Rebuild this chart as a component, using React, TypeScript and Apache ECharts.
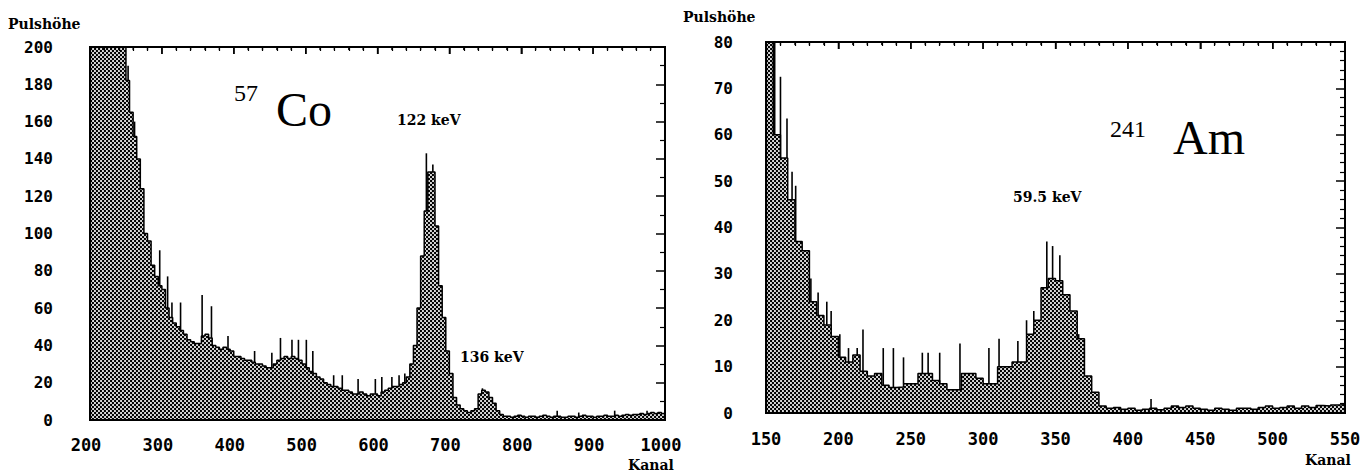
import React, { useEffect, useRef } from "react";
import * as echarts from "echarts";

// ---------- 57Co spectrum (channels 200..1000, 5-channel bins) ----------
const CO_START = 200;
const CO_BIN = 5;
const coCounts = [
  200, 200, 200, 200, 200, 200, 200, 200, 200, 200,
  182, 165, 152, 140, 124, 100, 96, 83, 77, 72,
  70, 60, 55, 52, 50, 48, 46, 43, 42, 41,
  41, 45, 46, 44, 40, 39, 38, 39, 38, 37,
  34, 34, 33, 32, 32, 31, 30, 30, 29, 28,
  28, 30, 32, 33, 34, 33, 34, 33, 32, 30,
  28, 26, 25, 23, 22, 20, 19, 18, 18, 17,
  16, 16, 15, 14, 14, 15, 14, 13, 14, 14,
  13, 15, 16, 17, 18, 18, 19, 20, 23, 30,
  40, 60, 88, 112, 133, 133, 104, 72, 55, 37,
  25, 12, 8, 6, 5, 4, 5, 6, 14, 16,
  15, 12, 9, 5, 3, 2, 2, 1.5, 2, 2.5,
  2, 1.5, 2, 2, 1.5, 2, 2.5, 2, 1.5, 2,
  2, 1.5, 1.5, 2, 2, 1.5, 2, 2.5, 2, 2,
  1.5, 2, 2, 2.5, 2, 2, 2.5, 2, 2.5, 3,
  2.5, 3, 3, 3.5, 3, 3.5, 4, 3.5, 4, 3.5,
];
// [channel, top of spike]
const coSpikes: [number, number][] = [
  [253, 190], [262, 160], [297, 91], [308, 77], [314, 63], [326, 63],
  [356, 67], [369, 61], [392, 45], [429, 37], [453, 36], [465, 44],
  [481, 43], [490, 43], [501, 43], [510, 37], [539, 24], [551, 24],
  [573, 22], [597, 22], [606, 23], [620, 23], [630, 24], [638, 25],
  [668, 143], [677, 137], [746, 17], [850, 5], [880, 4], [930, 5], [975, 5],
];

// ---------- 241Am spectrum (channels 150..550, 5-channel bins) ----------
const AM_START = 150;
const AM_BIN = 5;
const amCounts = [
  82, 60, 55, 46, 37, 35, 24, 21, 19, 16.5,
  12, 11, 12.5, 9, 8, 8.5, 6, 5.5, 5.6, 6.3,
  6.3, 8.5, 8.5, 7, 6.3, 5, 5, 8.5, 8.5, 7.5,
  6.3, 6.3, 10, 10, 11, 11, 17, 20, 27, 29,
  28.5, 25.5, 22, 16, 8, 4.5, 1.5, 1, 1.2, 0.8,
  1, 0.6, 0.8, 1, 0.7, 1, 1.5, 1.2, 1.5, 1,
  0.8, 0.6, 1, 0.8, 0.6, 1, 1, 0.8, 1.2, 1.5,
  1, 1.2, 1.5, 1, 1.5, 1.2, 1.6, 1.5, 1.7, 1.8,
];
const amSpikes: [number, number][] = [
  [152, 80], [156, 80], [160, 72.5], [164.5, 63.5], [168, 52], [170.5, 49],
  [181, 29], [186, 26], [192, 24], [195, 22], [201, 17], [207, 14],
  [213, 14], [217, 18], [231, 14], [238, 14], [245, 12], [258, 13],
  [262, 13], [270, 13], [284, 15], [304, 14], [311, 16], [317, 10],
  [324, 15.5], [330, 20], [335, 22], [344, 37], [348, 36], [353, 34],
  [366, 17], [416, 3],
];

const CO_X_MIN = 200, CO_X_MAX = 1000, CO_Y_MAX = 200;
const AM_X_MIN = 150, AM_X_MAX = 550, AM_Y_MAX = 80;

function toSteps(start: number, bin: number, counts: number[]) {
  const d = counts.map((v, i) => [start + i * bin, v]);
  d.push([start + counts.length * bin, counts[counts.length - 1]]);
  return d;
}
function spikeData(start: number, bin: number, counts: number[], spikes: [number, number][]) {
  return spikes.map(([ch, top]) => {
    const idx = Math.min(counts.length - 1, Math.max(0, Math.floor((ch - start) / bin)));
    return [ch, counts[idx], top];
  });
}

const patSvg =
  "<svg xmlns='http://www.w3.org/2000/svg' width='4' height='4'>" +
  "<rect width='4' height='4' fill='#000'/>" +
  "<ellipse cx='1' cy='1' rx='1.2' ry='0.9' fill='#fff'/>" +
  "<ellipse cx='3' cy='3' rx='1.2' ry='0.9' fill='#fff'/></svg>";
const patUrl = "data:image/svg+xml;charset=utf-8," + encodeURIComponent(patSvg);

const TICK_FONT = "DejaVu Sans Mono";
const SERIF_BOLD = "DejaVu Serif";

export default function App() {
  const ref = useRef<HTMLDivElement>(null);
  useEffect(() => {
    if (!ref.current) return;
    const chart = echarts.init(ref.current, null, { renderer: "svg" });
    const pattern: any = { image: patUrl, repeat: "repeat", imageWidth: 4, imageHeight: 4 };
    const axisLine = () => ({ show: true, onZero: false, lineStyle: { color: "#000", width: 2 } });
    const fmt = (v: number) => String(v);
    const xLabel = () => ({ color: "#000", fontFamily: TICK_FONT, fontWeight: "bold", fontSize: 17, formatter: fmt });
    const yLabel = () => ({ color: "#000", fontFamily: TICK_FONT, fontWeight: "bold", fontSize: 16, align: "right", formatter: fmt });
    const spikeRender = (params: any, api: any) => {
      const p1 = api.coord([api.value(0), api.value(1)]);
      const p2 = api.coord([api.value(0), api.value(2)]);
      return {
        type: "line",
        shape: { x1: p1[0], y1: p1[1], x2: p2[0], y2: p2[1] },
        style: { stroke: "#000", lineWidth: 1.6 },
      };
    };
    const frameAxis = (dir: "x" | "y", grid: number, min: number, max: number, interval: number, minorSplit: number, len: number) => ({
      type: "value", gridIndex: grid, position: dir === "x" ? "top" : "right", min, max, interval, z: 10,
      axisLine: axisLine(), splitLine: { show: false },
      axisLabel: { show: false },
      axisTick: { show: true, inside: true, length: len, lineStyle: { color: "#000", width: 1.5 } },
      minorTick: { show: true, splitNumber: minorSplit, length: Math.round(len / 2), lineStyle: { color: "#000", width: 1.2 } },
    });
    const texts: any[] = [
      { type: "text", x: 8, y: 24, style: { text: "Pulshöhe", fill: "#000", fontFamily: SERIF_BOLD, fontWeight: "bold", fontSize: 14, verticalAlign: "middle" } },
      { type: "text", x: 683, y: 17, style: { text: "Pulshöhe", fill: "#000", fontFamily: SERIF_BOLD, fontWeight: "bold", fontSize: 14, verticalAlign: "middle" } },
      { type: "text", x: 628, y: 465, style: { text: "Kanal", fill: "#000", fontFamily: SERIF_BOLD, fontWeight: "bold", fontSize: 14, verticalAlign: "middle" } },
      { type: "text", x: 1305, y: 460, style: { text: "Kanal", fill: "#000", fontFamily: SERIF_BOLD, fontWeight: "bold", fontSize: 14, verticalAlign: "middle" } },
      { type: "text", x: 234, y: 93, style: { text: "57", fill: "#000", fontFamily: "Liberation Serif", fontSize: 24, verticalAlign: "middle" } },
      { type: "text", x: 276, y: 109, style: { text: "Co", fill: "#000", fontFamily: "Liberation Serif", fontSize: 48, verticalAlign: "middle" } },
      { type: "text", x: 1110, y: 129, style: { text: "241", fill: "#000", fontFamily: "Liberation Serif", fontSize: 24, verticalAlign: "middle" } },
      { type: "text", x: 1173, y: 137, style: { text: "Am", fill: "#000", fontFamily: "Liberation Serif", fontSize: 48, verticalAlign: "middle" } },
      { type: "text", x: 397, y: 120, style: { text: "122 keV", fill: "#000", fontFamily: SERIF_BOLD, fontWeight: "bold", fontSize: 14, verticalAlign: "middle" } },
      { type: "text", x: 460, y: 357, style: { text: "136 keV", fill: "#000", fontFamily: SERIF_BOLD, fontWeight: "bold", fontSize: 14, verticalAlign: "middle" } },
      { type: "text", x: 1013, y: 197, style: { text: "59.5 keV", fill: "#000", fontFamily: SERIF_BOLD, fontWeight: "bold", fontSize: 14, verticalAlign: "middle" } },
    ];
    const option: any = {
      animation: false,
      grid: [
        { left: 90, top: 47, width: 575, height: 373 },
        { left: 766, top: 42, width: 579, height: 371 },
      ],
      xAxis: [
        {
          type: "value", gridIndex: 0, min: CO_X_MIN, max: CO_X_MAX, interval: 100,
          axisLine: axisLine(), axisTick: { show: false }, splitLine: { show: false },
          axisLabel: { ...xLabel(), margin: 16, padding: [0, 8, 0, 0] },
        },
        frameAxis("x", 0, CO_X_MIN, CO_X_MAX, 100, 5, 7),
        {
          type: "value", gridIndex: 1, min: AM_X_MIN, max: AM_X_MAX, interval: 50,
          axisLine: axisLine(), axisTick: { show: false }, splitLine: { show: false },
          axisLabel: { ...xLabel(), margin: 17 },
        },
        frameAxis("x", 1, AM_X_MIN, AM_X_MAX, 50, 5, 7),
      ],
      yAxis: [
        {
          type: "value", gridIndex: 0, min: 0, max: CO_Y_MAX, interval: 20,
          axisLine: axisLine(), axisTick: { show: false }, splitLine: { show: false },
          axisLabel: { ...yLabel(), margin: 37 },
        },
        frameAxis("y", 0, 0, CO_Y_MAX, 20, 2, 9),
        {
          type: "value", gridIndex: 1, min: 0, max: AM_Y_MAX, interval: 10,
          axisLine: axisLine(), axisTick: { show: false }, splitLine: { show: false },
          axisLabel: { ...yLabel(), margin: 33 },
        },
        frameAxis("y", 1, 0, AM_Y_MAX, 10, 5, 9),
      ],
      series: [
        {
          type: "line", xAxisIndex: 0, yAxisIndex: 0, step: "end", symbol: "none", silent: true,
          data: toSteps(CO_START, CO_BIN, coCounts),
          lineStyle: { color: "#000", width: 1.5 },
          areaStyle: { color: pattern, opacity: 1 },
        },
        {
          type: "custom", xAxisIndex: 0, yAxisIndex: 0, clip: true, silent: true,
          data: spikeData(CO_START, CO_BIN, coCounts, coSpikes),
          encode: { x: 0, y: [1, 2] },
          renderItem: spikeRender,
        },
        {
          type: "line", xAxisIndex: 2, yAxisIndex: 2, step: "end", symbol: "none", silent: true,
          data: toSteps(AM_START, AM_BIN, amCounts),
          lineStyle: { color: "#000", width: 1.5 },
          areaStyle: { color: pattern, opacity: 1 },
        },
        {
          type: "custom", xAxisIndex: 2, yAxisIndex: 2, clip: true, silent: true,
          data: spikeData(AM_START, AM_BIN, amCounts, amSpikes),
          encode: { x: 0, y: [1, 2] },
          renderItem: spikeRender,
        },
      ],
      graphic: texts,
    };
    chart.setOption(option);

    // Frame rectangles and top ticks, placed through the axes' own scales.
    const frame: any[] = [];
    const px = (idx: number, v: number) => chart.convertToPixel({ xAxisIndex: idx } as any, v) as unknown as number;
    const py = (idx: number, v: number) => chart.convertToPixel({ yAxisIndex: idx } as any, v) as unknown as number;
    const addFrame = (xIdx: number, yIdx: number, xmin: number, xmax: number, step: number, majorEvery: number, ymax: number) => {
      const yTop = py(yIdx, ymax);
      const yBot = py(yIdx, 0);
      const xl = px(xIdx, xmin);
      const xr = px(xIdx, xmax);
      if (![yTop, yBot, xl, xr].every((n) => typeof n === "number" && isFinite(n))) return;
      frame.push({
        type: "rect", z: 100, silent: true,
        shape: { x: xl, y: yTop, width: xr - xl, height: yBot - yTop },
        style: { fill: "none", stroke: "#000", lineWidth: 2 },
      });
      const n = Math.round((xmax - xmin) / step);
      for (let k = 1; k < n; k++) {
        const x = px(xIdx, xmin + k * step);
        const len = k % majorEvery === 0 ? 7 : 3;
        frame.push({ type: "line", z: 100, silent: true, shape: { x1: x, y1: yTop, x2: x, y2: yTop + len }, style: { stroke: "#000", lineWidth: 1.3 } });
      }
    };
    addFrame(0, 0, CO_X_MIN, CO_X_MAX, 20, 5, CO_Y_MAX);
    addFrame(2, 2, AM_X_MIN, AM_X_MAX, 10, 5, AM_Y_MAX);
    chart.setOption({ graphic: [...texts, ...frame] });
    return () => chart.dispose();
  }, []);
  return (
    <div
      ref={ref}
      style={{ position: "fixed", left: 0, top: 0, width: 1366, height: 474, background: "#fff" }}
    />
  );
}
